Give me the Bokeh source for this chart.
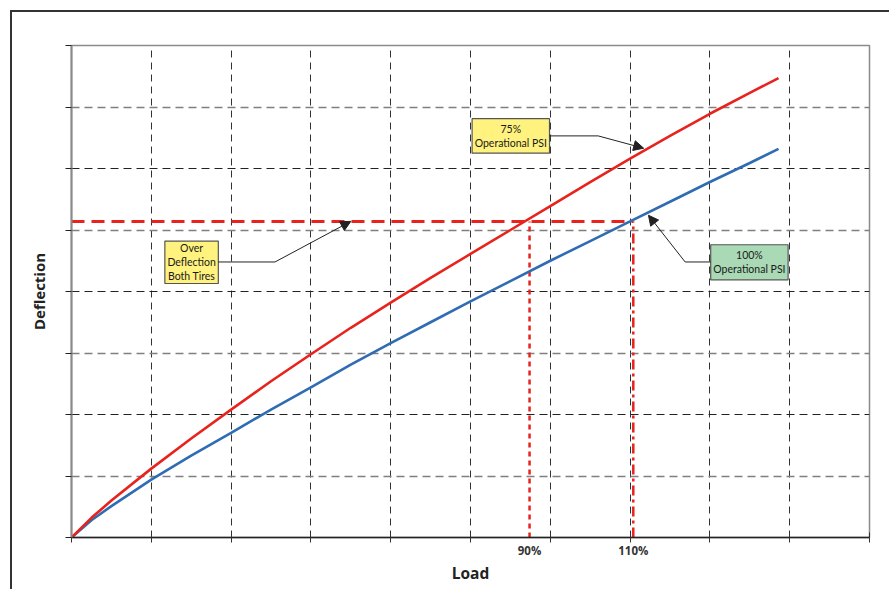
from bokeh.plotting import figure
from bokeh.models import (FixedTicker, Grid, Arrow, NormalHead, Range1d)
from bokeh.core.properties import value
from bokeh.embed import file_html
from bokeh.resources import INLINE

# ---- data ----
load = [0, 0.25, 0.5, 1, 1.5, 2, 2.5, 3, 3.5, 4, 4.5, 5, 5.5, 6, 6.5, 7, 7.5, 8, 8.5, 8.86]
defl_75psi = [0, 0.32, 0.60, 1.12, 1.61, 2.08, 2.54, 2.98, 3.41, 3.82, 4.22, 4.61,
              5.00, 5.39, 5.78, 6.16, 6.53, 6.89, 7.23, 7.47]
defl_100psi = [0, 0.28, 0.51, 0.94, 1.33, 1.70, 2.08, 2.44, 2.81, 3.16, 3.50, 3.84,
               4.17, 4.50, 4.82, 5.14, 5.46, 5.78, 6.09, 6.32]

over_deflection = 5.14
load_90 = 5.74
load_110 = 7.04
tick_labels = ["90%", "110%"]

x_ticks = list(range(0, 11))
y_ticks = list(range(0, 9))

box_texts = ["75%\nOperational PSI", "Over\nDeflection\nBoth Tires", "100%\nOperational PSI"]
box_fills = ["#FFF27F", "#FFF27F", "#A9D9B5"]

FONT = "Open Sans"
BOX_FONT = "Lato"

p = figure(frame_width=798, frame_height=492,
           min_border_left=59, min_border_right=20, min_border_top=33, min_border_bottom=52,
           x_range=Range1d(0, 10), y_range=Range1d(0, 8),
           output_backend="svg", toolbar_location=None,
           background_fill_color="white", border_fill_color="white")
p.styles = {"border-left": "2px solid #333", "border-top": "2px solid #333",
            "margin-left": "10px", "margin-top": "10px"}
p.outline_line_color = "#8a8a8a"
p.outline_line_width = 1.5

# grids
p.xgrid.ticker = FixedTicker(ticks=x_ticks[1:-1])
p.xgrid.grid_line_color = "#333333"
p.xgrid.grid_line_dash = "7 5"
p.xgrid.grid_line_width = 1
p.ygrid.ticker = FixedTicker(ticks=[t for t in y_ticks if t % 2 == 1])
p.ygrid.grid_line_color = "#808080"
p.ygrid.grid_line_dash = "8 5"
p.ygrid.grid_line_width = 1.5
g2 = Grid(dimension=1, ticker=FixedTicker(ticks=[t for t in y_ticks if t % 2 == 0 and 0 < t < 8]),
          grid_line_color="#222222", grid_line_dash="8 5", grid_line_width=1)
p.add_layout(g2, "center")

# x axis
xa = p.xaxis[0]
xa.ticker = FixedTicker(ticks=[load_90, load_110], minor_ticks=x_ticks)
xa.major_label_overrides = {load_90: tick_labels[0], load_110: tick_labels[1]}
xa.major_tick_in = 0
xa.major_tick_out = 0
xa.minor_tick_in = 5
xa.minor_tick_out = 5
xa.minor_tick_line_color = "#333333"
xa.axis_line_color = "#222222"
xa.axis_line_width = 1.5
xa.major_label_text_font = FONT
xa.major_label_text_font_size = "11.5px"
xa.major_label_text_font_style = "bold"
xa.major_label_text_color = "#333333"
xa.major_label_standoff = 0
xa.axis_label = "Load"
xa.axis_label_text_font = FONT
xa.axis_label_text_font_size = "15.5px"
xa.axis_label_text_font_style = "bold"
xa.axis_label_text_color = "#222222"
xa.axis_label_standoff = 1

# y axis
ya = p.yaxis[0]
ya.ticker = FixedTicker(ticks=y_ticks)
ya.major_label_overrides = {t: "" for t in y_ticks}
ya.major_tick_in = 0
ya.major_tick_out = 6
ya.major_tick_line_color = "#222222"
ya.minor_tick_line_color = None
ya.axis_line_color = "#8a8a8a"
ya.axis_line_width = 2
ya.axis_label = "Deflection"
ya.axis_label_text_font = FONT
ya.axis_label_text_font_size = "15px"
ya.axis_label_text_font_style = "bold"
ya.axis_label_text_color = "#222222"
ya.axis_label_standoff = 17

# reference lines
p.line([0, load_110], [over_deflection, over_deflection], line_color="#E8231E",
       line_width=3, line_dash="13 7")
p.line([load_90, load_90], [0, over_deflection], line_color="#E8231E",
       line_width=2.5, line_dash="5 4")
p.line([load_110, load_110], [0, over_deflection], line_color="#E8231E",
       line_width=2.5, line_dash="10 4 3 4")

# curves
p.line(load, defl_100psi, line_color="#2F6CB3", line_width=2.6)
p.line(load, defl_75psi, line_color="#E8231E", line_width=2.6)

# callout boxes
box_l = [5.02, 1.17, 8.01]
box_r = [5.99, 1.84, 8.98]
box_t = [6.81, 4.82, 4.76]
box_b = [6.25, 4.13, 4.19]
p.quad(left=box_l, right=box_r, top=box_t, bottom=box_b,
       fill_color=box_fills, line_color="#555555", line_width=1.2)
cx = [(a + b) / 2 for a, b in zip(box_l, box_r)]
cy = [(a + b) / 2 for a, b in zip(box_t, box_b)]
p.text(x=cx, y=cy, text=box_texts, text_align="center", text_baseline="middle",
       text_font=value(BOX_FONT), text_font_size="10.5px", text_color="#1a1a1a",
       text_line_height=1.15)

# leader lines
lead_x = [[5.99, 6.60], [1.84, 2.55], [8.01, 7.69]]
lead_y = [[6.53, 6.53], [4.48, 4.48], [4.48, 4.48]]
p.multi_line(xs=lead_x, ys=lead_y, line_color="#222222", line_width=1)
arrow_end_x = [7.17, 3.50, 7.23]
arrow_end_y = [6.33, 5.14, 5.24]
for lx, ly, ex, ey in zip(lead_x, lead_y, arrow_end_x, arrow_end_y):
    p.add_layout(Arrow(end=NormalHead(size=10, fill_color="#222222", line_color="#222222"),
                       x_start=lx[1], y_start=ly[1], x_end=ex, y_end=ey,
                       line_color="#222222", line_width=1))

open("out.html", "w").write(file_html(p, INLINE))
